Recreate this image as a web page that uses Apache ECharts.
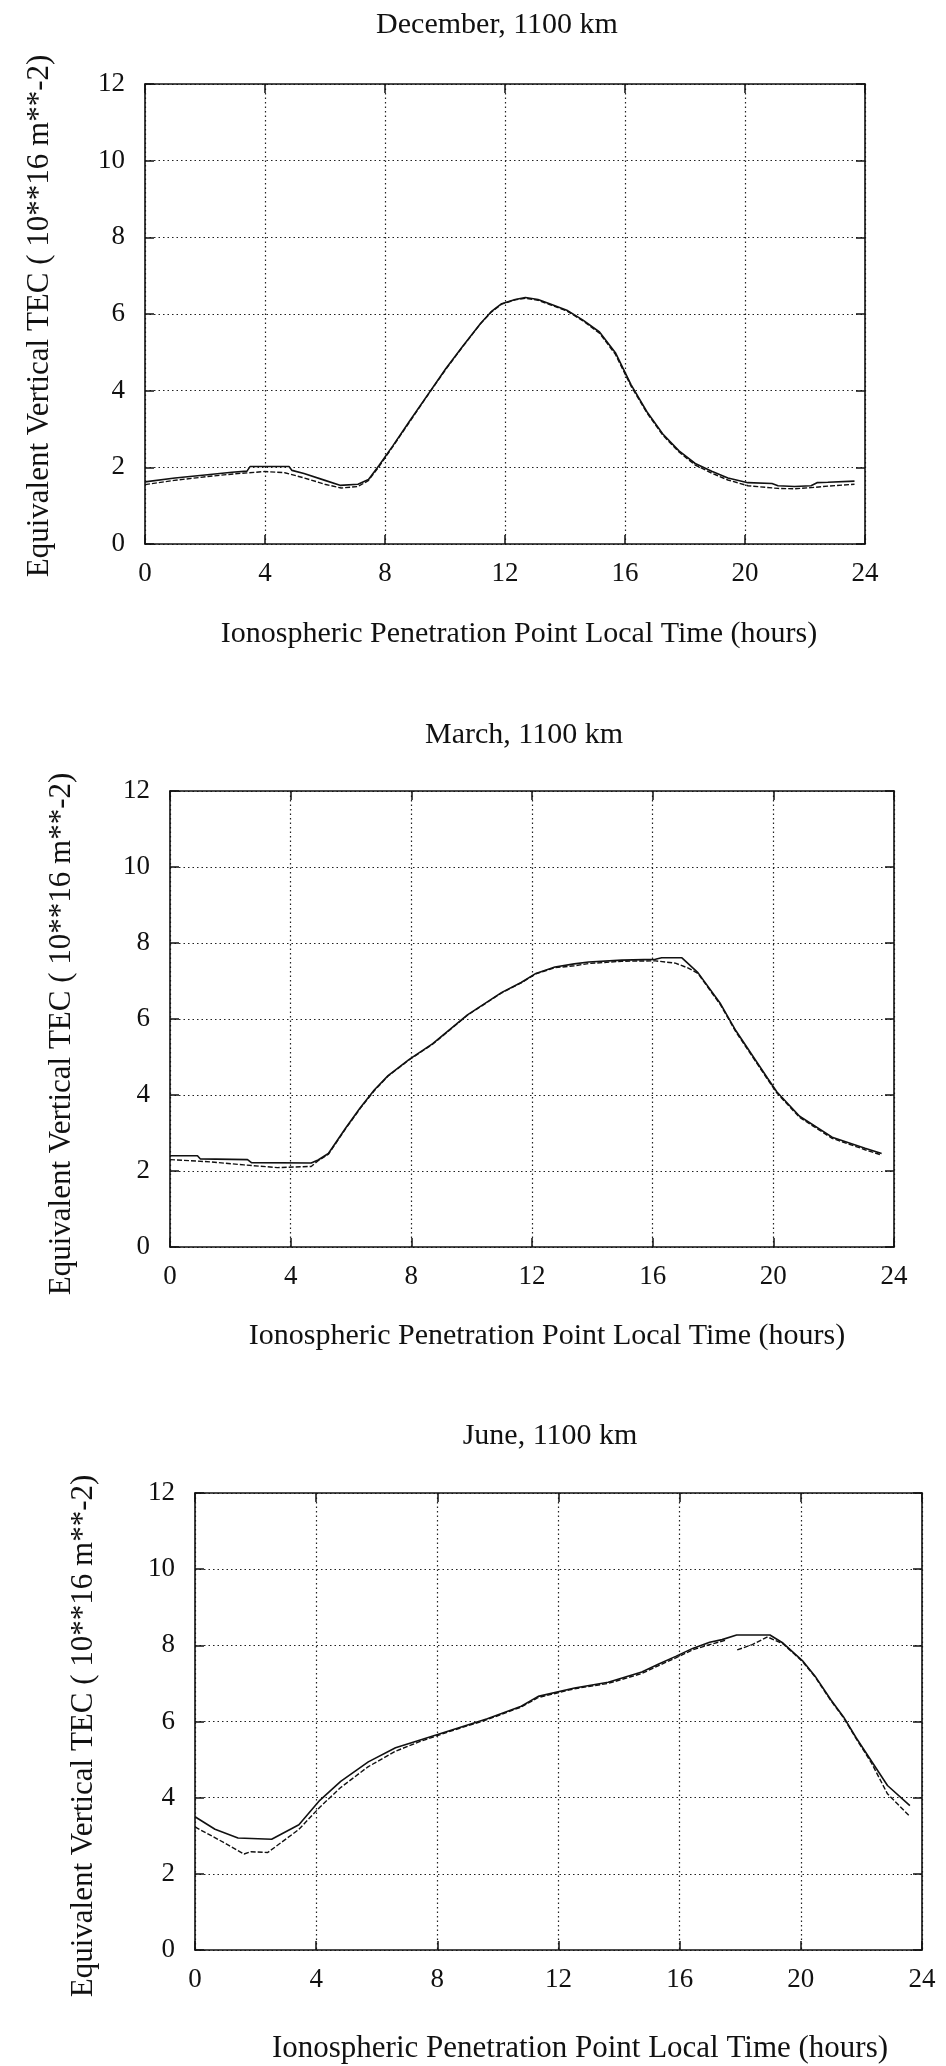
<!DOCTYPE html>
<html><head><meta charset="utf-8">
<script src="https://cdn.jsdelivr.net/npm/echarts@6/dist/echarts.min.js"></script>
<style>html,body{margin:0;padding:0;background:#fff}#c{width:946px;height:2066px}</style>
</head><body><div id="c"></div>
<script>
// ---- Data (hours, TEC in 10**16 m**-2) ----
const xTickValues = [0, 4, 8, 12, 16, 20, 24];
const yTickValues = [0, 2, 4, 6, 8, 10, 12];
const chartTitles = ['December, 1100 km', 'March, 1100 km', 'June, 1100 km'];
const xAxisTitle = 'Ionospheric Penetration Point Local Time (hours)';
const yAxisTitle = 'Equivalent Vertical TEC ( 10**16 m**-2)';

const decSolid = [[0,1.62],[1.0,1.72],[2.0,1.8],[2.9,1.87],[3.4,1.9],[3.5,2.02],[4.8,2.02],[4.9,1.92],[5.3,1.84],[6.0,1.66],[6.5,1.53],[7.1,1.56],[7.45,1.68],[7.8,2.05],[8.26,2.56],[8.85,3.24],[9.44,3.91],[10.03,4.58],[10.61,5.18],[11.19,5.76],[11.54,6.06],[11.89,6.27],[12.34,6.38],[12.68,6.43],[13.1,6.38],[13.51,6.26],[14.06,6.1],[14.6,5.84],[15.15,5.53],[15.68,4.99],[16.2,4.16],[16.73,3.45],[17.26,2.87],[17.8,2.43],[18.34,2.1],[18.89,1.9],[19.43,1.72],[20.1,1.6],[20.9,1.58],[21.1,1.52],[21.65,1.5],[22.2,1.52],[22.4,1.6],[22.76,1.61],[23.65,1.64]];
const decDashed = [[0,1.55],[0.97,1.66],[2.09,1.76],[2.98,1.83],[3.99,1.89],[4.66,1.86],[5.32,1.72],[5.99,1.56],[6.54,1.46],[7.1,1.5],[7.44,1.65],[7.8,2.02],[8.26,2.54],[8.85,3.22],[9.44,3.9],[10.03,4.56],[10.61,5.17],[11.19,5.75],[11.54,6.05],[11.89,6.26],[12.34,6.37],[12.68,6.41],[13.1,6.36],[13.51,6.24],[14.06,6.08],[14.6,5.82],[15.15,5.5],[15.68,4.95],[16.2,4.12],[16.73,3.42],[17.26,2.84],[17.8,2.4],[18.34,2.06],[18.89,1.85],[19.43,1.67],[20.1,1.52],[21.1,1.45],[21.65,1.44],[22.2,1.47],[22.76,1.51],[23.65,1.56]];

const marSolid = [[0,2.4],[0.91,2.4],[1.0,2.32],[2.57,2.3],[2.7,2.22],[4.68,2.21],[4.91,2.29],[5.25,2.46],[5.83,3.14],[6.3,3.66],[6.77,4.13],[7.23,4.51],[7.92,4.93],[8.71,5.35],[9.86,6.11],[11.0,6.7],[11.64,6.96],[12.13,7.2],[12.76,7.37],[13.4,7.45],[13.88,7.5],[14.98,7.55],[16.09,7.57],[16.3,7.61],[16.97,7.61],[17.5,7.22],[18.25,6.4],[18.76,5.69],[19.29,5.06],[19.81,4.44],[20.12,4.08],[20.87,3.44],[21.95,2.89],[23.04,2.6],[23.59,2.46]];
const marDashed = [[0,2.3],[1.35,2.24],[2.45,2.16],[3.56,2.09],[4.68,2.12],[4.91,2.27],[5.25,2.44],[5.83,3.12],[6.3,3.64],[6.77,4.11],[7.23,4.5],[7.92,4.92],[8.71,5.34],[9.86,6.1],[11.0,6.69],[11.64,6.95],[12.13,7.19],[12.76,7.35],[13.4,7.4],[13.88,7.46],[14.98,7.52],[16.09,7.53],[16.75,7.47],[17.18,7.34],[17.5,7.2],[18.25,6.37],[18.76,5.66],[19.29,5.03],[19.81,4.41],[20.12,4.05],[20.87,3.41],[21.95,2.86],[23.04,2.56],[23.59,2.42]];

const junSolid = [[0,3.5],[0.66,3.17],[1.42,2.94],[2.53,2.91],[3.43,3.29],[4.12,3.93],[4.81,4.43],[5.72,4.94],[6.62,5.31],[7.41,5.51],[8.53,5.79],[9.65,6.07],[10.77,6.4],[11.33,6.66],[12.53,6.88],[13.64,7.03],[14.75,7.3],[15.31,7.51],[15.87,7.71],[16.43,7.92],[16.99,8.08],[17.4,8.15],[17.88,8.27],[18.98,8.27],[19.41,8.06],[20.05,7.6],[20.47,7.19],[20.99,6.57],[21.41,6.12],[21.82,5.58],[22.34,4.95],[22.86,4.32],[23.6,3.79]];
const junDashed = [[0,3.23],[0.64,2.96],[1.62,2.52],[1.84,2.58],[2.4,2.56],[3.42,3.16],[4.12,3.75],[4.8,4.26],[5.71,4.81],[6.62,5.22],[7.41,5.47],[8.53,5.77],[9.65,6.05],[10.77,6.38],[11.33,6.63],[12.53,6.86],[13.64,7.0],[14.75,7.26],[15.31,7.47],[15.87,7.67],[16.43,7.88],[16.99,8.02],[17.5,8.13],[17.7,null],[17.9,7.88],[18.4,8.02],[18.9,8.22],[19.41,8.04],[20.05,7.58],[20.47,7.17],[20.99,6.55],[21.41,6.1],[21.82,5.56],[22.34,4.9],[22.86,4.1],[23.6,3.51]];

const seriesSets = [[decSolid, decDashed], [marSolid, marDashed], [junSolid, junDashed]];

// ---- Layout ----
const FONT = '"Liberation Serif", "DejaVu Serif", serif';
const INK = '#111';
const grids = [
  {left: 145, top: 84, width: 720, height: 460},
  {left: 170, top: 791, width: 724, height: 456},
  {left: 195, top: 1493, width: 727, height: 457}
];
const titlePos = [[497, 25], [524, 735], [550, 1436]];
const xTitlePos = [[519, 634], [547, 1336], [580, 2049]];
const yTitlePos = [[40, 316], [62, 1034], [84, 1736]];

function tick() { return {show: true, inside: true, length: 9, lineStyle: {color: INK, width: 1.5}}; }
function axLine() { return {show: true, onZero: false, lineStyle: {color: INK, width: 1.6}}; }
function dots() { return {show: true, lineStyle: {color: '#222', width: 1.2, type: [1.5, 3]}}; }

const xAxes = [], yAxes = [], series = [], graphics = [];
grids.forEach((g, i) => {
  xAxes.push({type: 'value', gridIndex: i, position: 'bottom', min: 0, max: 24, interval: 4,
    axisLine: axLine(), axisTick: tick(), splitLine: dots(),
    axisLabel: {margin: 16, fontFamily: FONT, fontSize: 27, color: INK,
      formatter: v => xTickValues.includes(v) ? String(v) : ''}});
  xAxes.push({type: 'value', gridIndex: i, position: 'top', min: 0, max: 24, interval: 4,
    axisLine: axLine(), axisTick: tick(), splitLine: {show: false}, axisLabel: {show: false}});
  yAxes.push({type: 'value', gridIndex: i, position: 'left', min: 0, max: 12, interval: 2,
    axisLine: axLine(), axisTick: tick(), splitLine: dots(),
    axisLabel: {margin: 20, fontFamily: FONT, fontSize: 27, color: INK,
      formatter: v => yTickValues.includes(v) ? String(v) : ''}});
  yAxes.push({type: 'value', gridIndex: i, position: 'right', min: 0, max: 12, interval: 2,
    axisLine: axLine(), axisTick: tick(), splitLine: {show: false}, axisLabel: {show: false}});

  const [solid, dashed] = seriesSets[i];
  series.push({type: 'line', xAxisIndex: 2 * i, yAxisIndex: 2 * i, showSymbol: false, symbol: 'none',
    data: dashed.map(p => [p[0], p[1] === null ? '-' : p[1]]), connectNulls: false,
    lineStyle: {color: INK, width: 1.4, type: [5, 2]}, animation: false, z: 3});
  series.push({type: 'line', xAxisIndex: 2 * i, yAxisIndex: 2 * i, showSymbol: false, symbol: 'none',
    data: solid, lineStyle: {color: INK, width: 1.6}, animation: false, z: 4});

  graphics.push({type: 'text', x: titlePos[i][0], y: titlePos[i][1],
    style: {text: chartTitles[i], font: '30px ' + FONT, fill: INK,
      textAlign: 'center', textVerticalAlign: 'middle', textBaseline: 'middle'}});
  graphics.push({type: 'text', x: xTitlePos[i][0], y: xTitlePos[i][1],
    style: {text: xAxisTitle, font: (i === 2 ? '31px ' : '30px ') + FONT, fill: INK,
      textAlign: 'center', textVerticalAlign: 'middle', textBaseline: 'middle'}});
  graphics.push({type: 'text', x: yTitlePos[i][0], y: yTitlePos[i][1], rotation: Math.PI / 2,
    style: {text: yAxisTitle, font: '31px ' + FONT, fill: INK,
      textAlign: 'center', textVerticalAlign: 'middle', textBaseline: 'middle'}});
});

const chart = echarts.init(document.getElementById('c'), null, {renderer: 'canvas'});
chart.setOption({
  backgroundColor: '#fff',
  animation: false,
  grid: grids,
  xAxis: xAxes,
  yAxis: yAxes,
  series: series,
  graphic: graphics
});
</script>
</body></html>
